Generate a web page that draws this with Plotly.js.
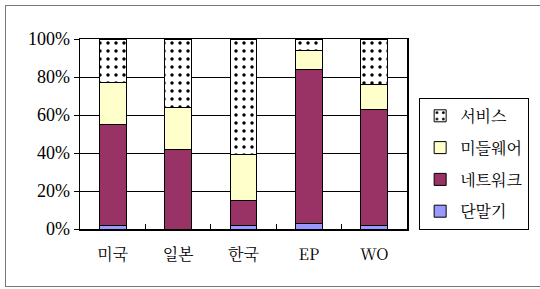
<!DOCTYPE html>
<html><head><meta charset="utf-8">
<script src="https://cdn.plot.ly/plotly-3.0.1.min.js"></script>
<style>
html,body{margin:0;padding:0;background:#fff;overflow:hidden}
#frame{position:absolute;left:5px;top:5px;width:560px;height:282px;border:1px solid #777;box-sizing:border-box}
#chart{position:absolute;left:0;top:0;width:540px;height:289px}
</style></head>
<body>
<div id="frame"></div>
<div id="chart"></div>
<script>
const categories = ['미국','일본','한국','EP','WO'];
const seriesNames = ['단말기','네트워크','미들웨어','서비스'];
const terminal   = [2, 0, 2, 3, 2];
const network    = [53, 42, 13, 81, 61];
const middleware = [22, 22, 24, 10, 13];
const service    = [23, 36, 61, 6, 24];
const yTicks = [0, 20, 40, 60, 80, 100];
const yTickText = ['0%','20%','40%','60%','80%','100%'];

const serif = 'Liberation Serif, Noto Serif CJK KR, serif';
const kor = 'Noto Serif CJK KR, Liberation Serif, serif';
const edge = {color:'#000', width:1};
const traces = [
  {name:seriesNames[0], y:terminal, marker:{color:'#9999FF', line:edge}},
  {name:seriesNames[1], y:network, marker:{color:'#993366', line:edge}},
  {name:seriesNames[2], y:middleware, marker:{color:'#FFFFCC', line:edge}},
  {name:seriesNames[3], y:service, marker:{color:'#FFFFFF', line:edge,
      pattern:{shape:'.', fgcolor:'#000', bgcolor:'#FFFFFF', size:8, solidity:0.15}}}
].map((t,i)=>Object.assign({type:'bar', x:categories, legendgroup:'g'+i, legendrank:10-i, hoverinfo:'none'}, t));

const layout = {
  width:540, height:289,
  margin:{l:80, r:132, t:39, b:60},
  barmode:'stack', bargap:0.59,
  paper_bgcolor:'rgba(0,0,0,0)', plot_bgcolor:'#fff',
  font:{family:serif, size:15, color:'#000'},
  showlegend:true,
  legend:{x:1.034, xanchor:'left', y:0.69, yanchor:'top', traceorder:'grouped',
    bordercolor:'#000', borderwidth:1, bgcolor:'#fff', tracegroupgap:8,
    font:{family:kor, size:16}},
  xaxis:{type:'category', showline:true, linecolor:'#000', linewidth:1.5, mirror:true,
    ticks:'inside', tickson:'boundaries', ticklen:5, tickcolor:'#000',
    tickfont:{family:kor, size:16}, ticklabelstandoff:10},
  yaxis:{range:[0,100], tickmode:'array', tickvals:yTicks, ticktext:yTickText, showline:true, linecolor:'#000', linewidth:1.5, mirror:true,
    ticks:'outside', ticklen:5, tickcolor:'#000', showgrid:true, gridcolor:'#000', gridwidth:1,
    zeroline:false, tickfont:{family:serif, size:18}}
};
Plotly.newPlot('chart', traces, layout, {staticPlot:true, displayModeBar:false});
</script>
</body></html>
